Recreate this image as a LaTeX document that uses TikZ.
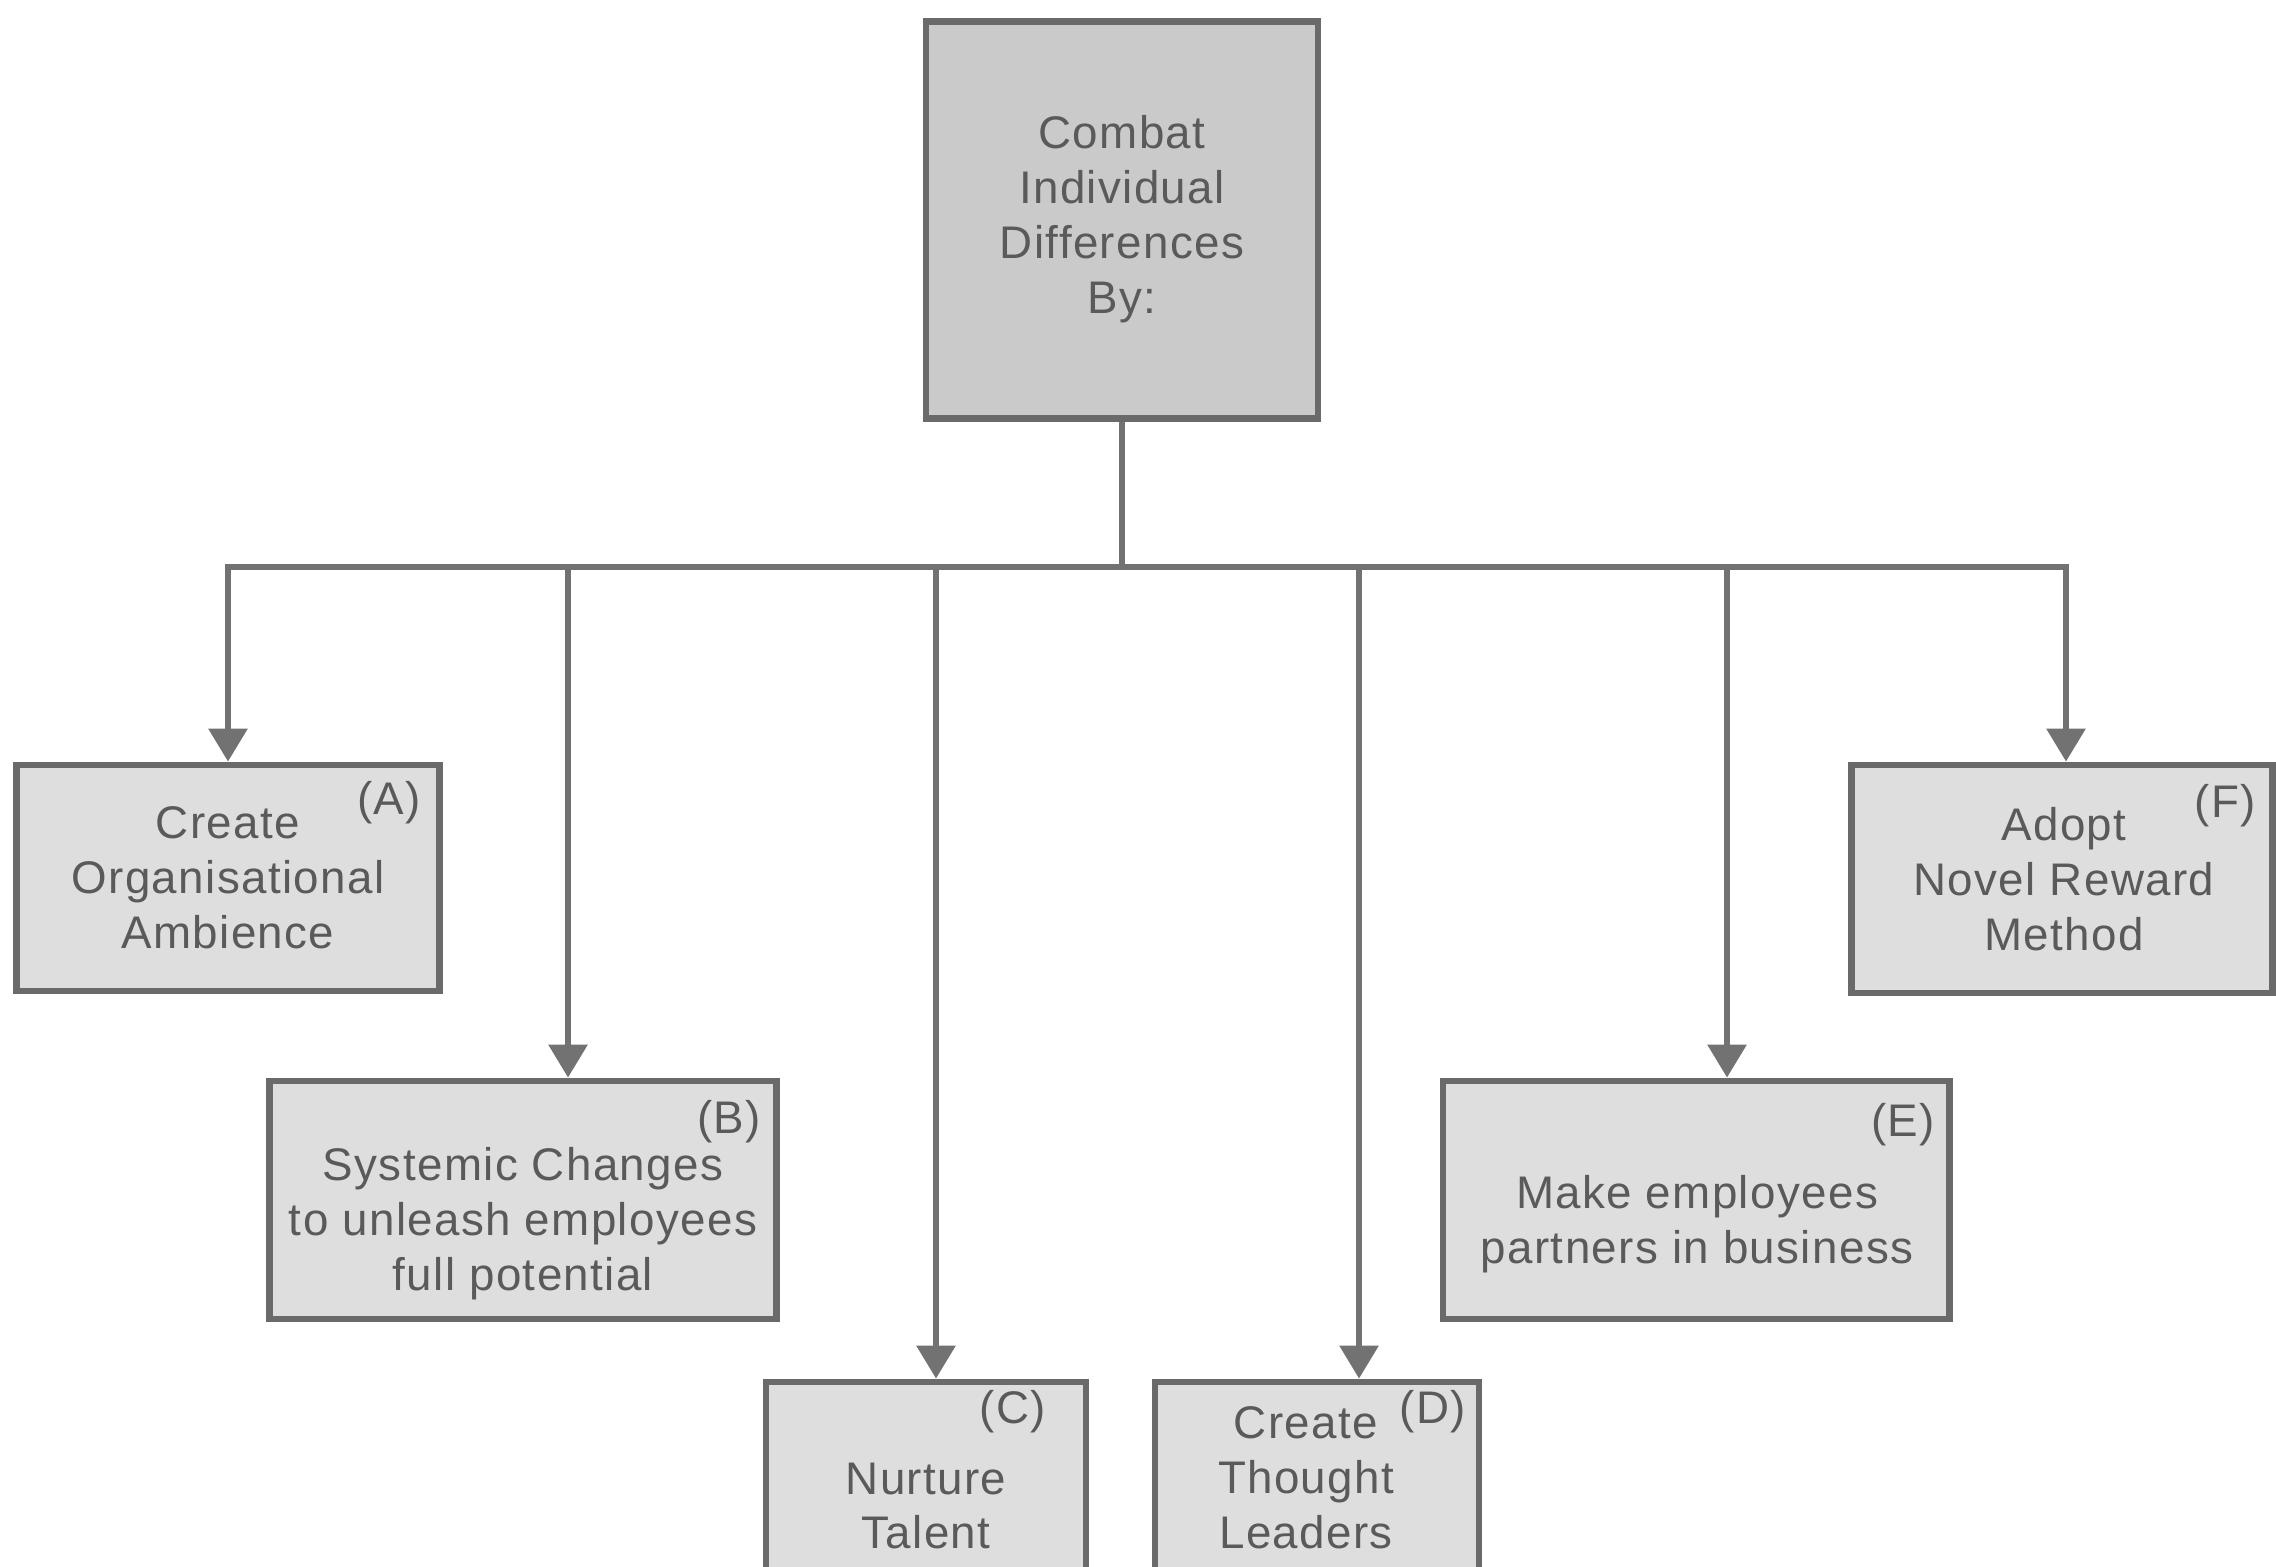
\documentclass[tikz,border=0pt]{standalone}
\usepackage{fontspec}
\setmainfont{Liberation Sans}[LetterSpace=3]
\definecolor{cdInk}{HTML}{5A5A5A}
\definecolor{cdLine}{HTML}{727272}
\definecolor{cdEdge}{HTML}{6A6A6A}
\definecolor{cdRoot}{HTML}{CACACA}
\definecolor{cdCard}{HTML}{DEDEDE}
\usetikzlibrary{arrows.meta}
\tikzset{
  cdbox/.style={draw=cdEdge, line width=1.9pt, inner sep=0pt},
  cdtext/.style={text=cdInk, align=center, font=\fontsize{13}{15.6}\selectfont},
  cdtag/.style={text=cdInk, font=\fontsize{13}{15.6}\selectfont},
  cdlink/.style={draw=cdLine, line width=1.8pt},
  cdarrow/.style={cdlink, -{Triangle[width=10.8pt,length=9.4pt]}}
}

\begin{document}
\begin{tikzpicture}[x=0.01cm, y=-0.01cm]
  \useasboundingbox (0,0) rectangle (2276,1566);
  \clip (0,0) rectangle (2276,1566);
  % Root box
  \node[cdbox, fill=cdRoot, minimum width=3.92cm, minimum height=3.97cm] (root) at (1122,220) {};
  \node[cdtext] (rootText) at (1122,219) {Combat\\Individual\\Differences\\By:};
  % Branch hub on the bar
  \coordinate (hub) at (1122,567);
  % (A) top left
  \node[cdbox, fill=cdCard, minimum width=4.23cm, minimum height=2.26cm] (boxA) at (228,878) {};
  \node[cdtext] (textA) at (228,878) {Create\\Organisational\\Ambience};
  \node[cdtag] (tagA) at (389,803) {(A)};
  % (B)
  \node[cdbox, fill=cdCard, minimum width=5.07cm, minimum height=2.38cm] (boxB) at (523,1200) {};
  \node[cdtext] (textB) at (523,1224) {Systemic Changes\\to unleash employees\\full potential};
  \node[cdtag] (tagB) at (729,1122) {(B)};
  % (C)
  \node[cdbox, fill=cdCard, minimum width=3.20cm, minimum height=2.60cm] (boxC) at (926,1512) {};
  \node[cdtext] (textC) at (926,1506) {Nurture\\Talent};
  \node[cdtag] (tagC) at (1013,1412) {(C)};
  % (D)
  \node[cdbox, fill=cdCard, minimum width=3.24cm, minimum height=2.60cm] (boxD) at (1317,1512) {};
  \node[cdtext] (textD) at (1306,1478) {Create\\Thought\\Leaders};
  \node[cdtag] (tagD) at (1433,1412) {(D)};
  % (E)
  \node[cdbox, fill=cdCard, minimum width=5.06cm, minimum height=2.38cm] (boxE) at (1696,1200) {};
  \node[cdtext] (textE) at (1697,1224) {Make employees\\partners in business};
  \node[cdtag] (tagE) at (1903,1125) {(E)};
  % (F) top right
  \node[cdbox, fill=cdCard, minimum width=4.21cm, minimum height=2.28cm] (boxF) at (2062,879) {};
  \node[cdtext] (textF) at (2064,879) {Adopt\\Novel Reward\\Method};
  \node[cdtag] (tagF) at (2225,806) {(F)};
  % Connectors
  \draw[cdlink] (root.south) -- (hub);
  \foreach \b/\dx in {boxA/0, boxB/0.45, boxC/0.10, boxD/0.42, boxE/0.31, boxF/0.04}
    \draw[cdarrow] (hub) -| ([xshift=\dx cm]\b.north);
\end{tikzpicture}
\end{document}
